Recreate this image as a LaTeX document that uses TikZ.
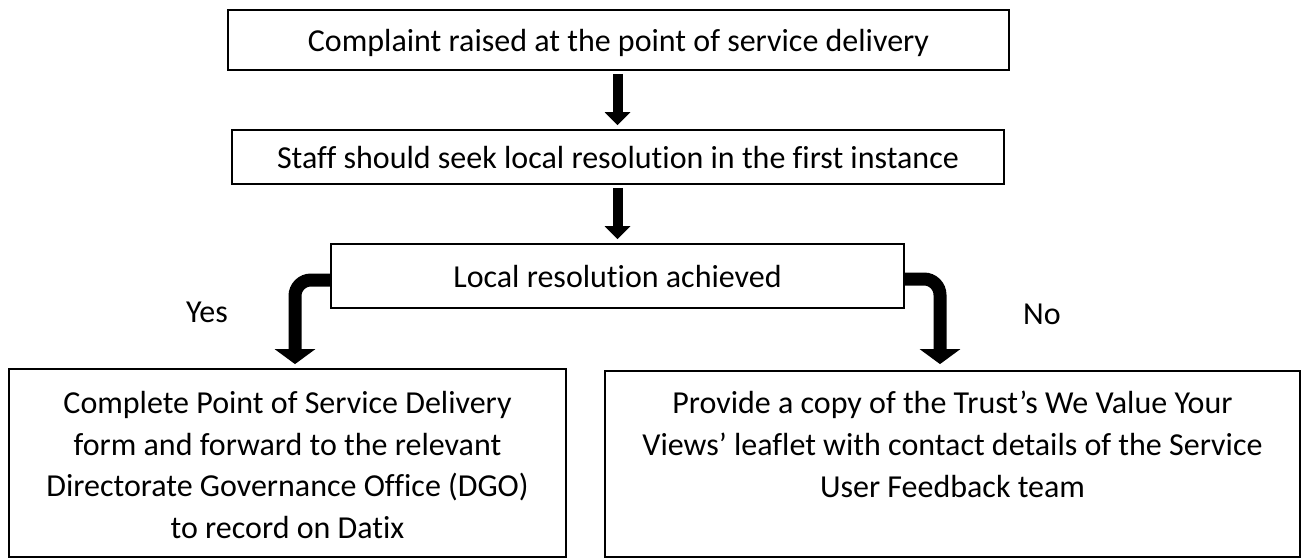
\documentclass[tikz,border=0pt]{standalone}
\usepackage{fontspec}
\setmainfont{Carlito}[Ligatures=NoCommon]
\usetikzlibrary{arrows.meta}
\begin{document}
\begin{tikzpicture}[x=1pt,y=-1pt,
  box/.style={draw, line width=1.8pt, inner sep=0pt,
    font=\fontsize{32}{41.7}\selectfont, text height=22pt, text depth=0pt},
  panel/.style={draw, line width=1.8pt, inner sep=0pt},
  txt/.style={inner sep=0pt, align=center, font=\fontsize{32}{41.7}\selectfont},
  flow/.style={line width=10pt, -{Triangle[width=25pt,length=13pt]}},
  branch/.style={line width=13pt, rounded corners=16pt, -{Triangle[width=40pt,length=15pt]}},
  lbl/.style={inner sep=0pt, font=\fontsize{32}{38}\selectfont}]
\useasboundingbox (0,0) rectangle (1309,558);
% process boxes
\node[box, minimum width=781pt, minimum height=60pt] (b1) at (618.5,40)
  {Complaint raised at the point of service delivery};
\node[box, minimum width=772pt, minimum height=54pt] (b2) at (618,157)
  {Staff should seek local resolution in the first instance};
\node[box, minimum width=573pt, minimum height=64pt] (b3) at (617.5,276)
  {Local resolution achieved};
\node[panel, minimum width=557pt, minimum height=188pt] (b4) at (287.5,463) {};
\node[panel, minimum width=695pt, minimum height=186pt] (b5) at (952.5,464) {};
% texts of the two outcome boxes
\node[txt, anchor=north] (t4) at ([yshift=-23pt]b4.north)
  {Complete Point of Service Delivery\\form and forward to the relevant\\
   Directorate Governance Office (DGO)\\to record on Datix};
\node[txt, anchor=north] (t5) at ([yshift=-21pt]b5.north)
  {Provide a copy of the Trust’s We Value Your\\Views’ leaflet with contact details of the Service\\
   User Feedback team};
% straight connectors, on the axis of the decision box
\coordinate (s1) at (b1.south -| b3.north);
\coordinate (e1) at (b2.north -| b3.north);
\coordinate (s2) at (b2.south -| b3.north);
\draw[flow] ([yshift=-3pt]s1) -- ([yshift=4pt]e1);
\draw[flow] ([yshift=-3pt]s2) -- ([yshift=4pt]b3.north);
% decision branches
\draw[branch] ([yshift=-4pt]b3.west) -| ([xshift=7.5pt,yshift=4pt]b4.north);
\draw[branch] ([yshift=-3pt]b3.east) -| ([xshift=-12.5pt,yshift=6pt]b5.north);
\node[lbl] (yes) at (207,312) {Yes};
\node[lbl] (no) at (1042,314) {No};
\end{tikzpicture}
\end{document}
